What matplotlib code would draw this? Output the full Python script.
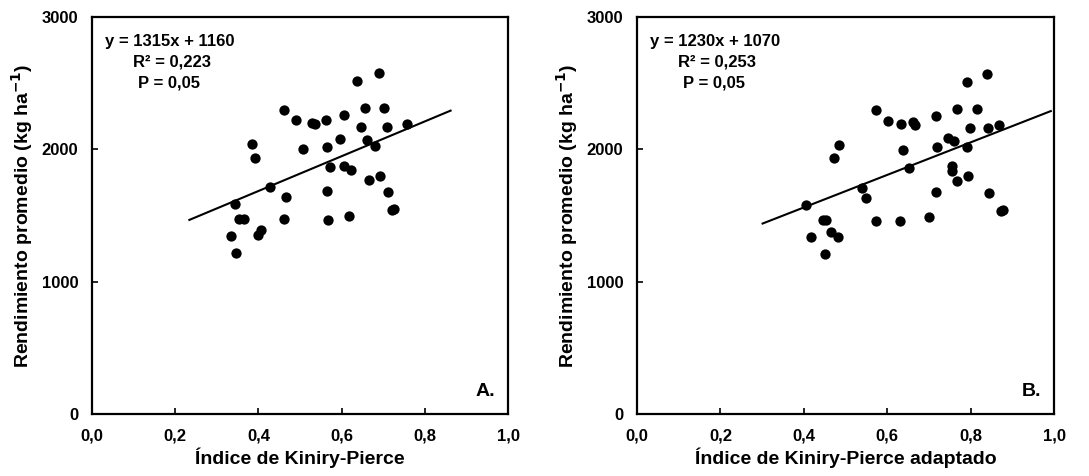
import numpy as np
import matplotlib
matplotlib.use("Agg")
import matplotlib.pyplot as plt

plt.rcParams['font.family'] = ['Liberation Sans', 'DejaVu Sans']
plt.rcParams['font.weight'] = 'bold'

# Panel A: Kiniry-Pierce index vs mean yield
kp_a = [0.690, 0.638, 0.462, 0.656, 0.702, 0.491, 0.530, 0.537, 0.562, 0.605,
        0.646, 0.710, 0.758, 0.384, 0.392, 0.506, 0.595, 0.566, 0.660, 0.680,
        0.571, 0.605, 0.623, 0.692, 0.667, 0.429, 0.467, 0.566, 0.712, 0.343,
        0.353, 0.366, 0.462, 0.568, 0.618, 0.720, 0.725, 0.406, 0.400, 0.335,
        0.347]
yield_a = [2577, 2517, 2301, 2313, 2313, 2220, 2200, 2190, 2220, 2258,
           2170, 2170, 2190, 2039, 1939, 2002, 2082, 2019, 2069, 2027,
           1868, 1873, 1843, 1800, 1768, 1717, 1642, 1687, 1680, 1587,
           1473, 1473, 1473, 1466, 1499, 1546, 1551, 1390, 1350, 1345,
           1217]

# Panel B: adapted Kiniry-Pierce index vs mean yield
kp_b = [0.840, 0.790, 0.573, 0.766, 0.814, 0.602, 0.633, 0.662, 0.667, 0.717,
        0.798, 0.841, 0.868, 0.485, 0.473, 0.637, 0.746, 0.761, 0.719, 0.792,
        0.653, 0.755, 0.755, 0.793, 0.768, 0.540, 0.549, 0.716, 0.843, 0.405,
        0.446, 0.454, 0.573, 0.630, 0.699, 0.872, 0.878, 0.465, 0.482, 0.416,
        0.450]
yield_b = [2572, 2512, 2296, 2306, 2306, 2215, 2195, 2210, 2185, 2255,
           2165, 2160, 2185, 2034, 1934, 1996, 2084, 2064, 2017, 2019,
           1858, 1873, 1838, 1798, 1763, 1710, 1632, 1677, 1672, 1579,
           1466, 1466, 1461, 1456, 1491, 1536, 1541, 1380, 1340, 1335,
           1209]

# regression lines (slope, intercept, x range drawn)
fit_a = (1315, 1160, 0.234, 0.862)
fit_b = (1230, 1070, 0.301, 0.992)

xlabels = ['Índice de Kiniry-Pierce', 'Índice de Kiniry-Pierce adaptado']
eqs = ['y = 1315x + 1160', 'y = 1230x + 1070']
r2s = ['R² = 0,223', 'R² = 0,253']
tags = ['A.', 'B.']

fig = plt.figure(figsize=(10.89, 4.76), dpi=100)
ax_a = fig.add_axes([0.0845, 0.130, 0.382, 0.834])
ax_b = fig.add_axes([0.585, 0.130, 0.383, 0.834])

panels = [(ax_a, kp_a, yield_a, fit_a), (ax_b, kp_b, yield_b, fit_b)]
for i, (ax, xs, ys, fit) in enumerate(panels):
    ax.scatter(xs, ys, s=55, color='black', zorder=3, linewidths=0)
    m, b, x0, x1 = fit
    lx = np.array([x0, x1])
    ax.plot(lx, m * lx + b, color='black', lw=1.5)

    ax.set_xlim(0, 1)
    ax.set_ylim(0, 3000)
    ax.set_xticks(np.arange(0, 1.01, 0.2))
    ax.set_xticklabels(['0,0', '0,2', '0,4', '0,6', '0,8', '1,0'])
    ax.set_yticks([0, 1000, 2000, 3000])
    ax.tick_params(direction='in', length=4, width=1.2, labelsize=12, pad=10)
    for lab in ax.get_xticklabels() + ax.get_yticklabels():
        lab.set_fontweight('bold')
    for sp in ax.spines.values():
        sp.set_linewidth(1.6)

    ax.set_xlabel(xlabels[i], fontsize=14, fontweight='bold', labelpad=3)
    ax.set_ylabel('Rendimiento promedio (kg ha$^{\\mathbf{-1}}$)', fontsize=14,
                  fontweight='bold', labelpad=5)

    ax.text(0.03, 0.957, eqs[i], transform=ax.transAxes, fontsize=12,
            fontweight='bold', va='top')
    ax.text(0.098, 0.905, r2s[i], transform=ax.transAxes, fontsize=12,
            fontweight='bold', va='top')
    ax.text(0.11, 0.853, 'P = 0,05', transform=ax.transAxes, fontsize=12,
            fontweight='bold', va='top')
    ax.text(0.97, 0.035, tags[i], transform=ax.transAxes, fontsize=14,
            fontweight='bold', ha='right', va='bottom')

fig.savefig('out.png', dpi=100)
